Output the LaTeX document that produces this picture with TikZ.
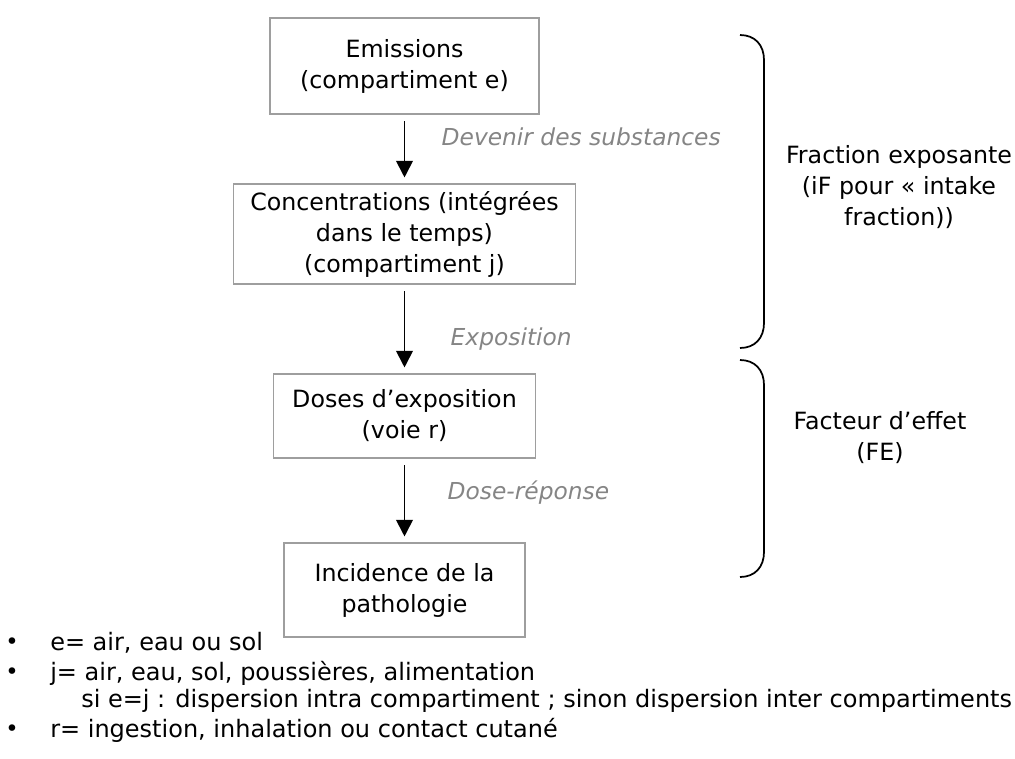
\documentclass[tikz,border=0pt]{standalone}
\usepackage{fontspec}
\setmainfont{DejaVu Sans}
\usetikzlibrary{arrows.meta}
\definecolor{boxline}{gray}{0.62}
\definecolor{notegray}{gray}{0.52}
\begin{document}
\begin{tikzpicture}[
       x=0.75pt, y=-0.75pt,
       box/.style={rectangle, draw=boxline, line width=0.8pt, align=center, inner sep=2pt,
                   font=\fontsize{17.8pt}{23.25pt}\selectfont},
       arrow/.style={-{Triangle[width=12.5pt,length=12.5pt]}, line width=1.4pt, black, shorten <=5pt, shorten >=4.5pt},
       note/.style={anchor=west, text=notegray, font=\fontsize{17.5pt}{23pt}\selectfont\itshape},
       side/.style={align=center, font=\fontsize{17.8pt}{23.25pt}\selectfont},
       bracket/.style={line width=1.3pt, black},
       item/.style={anchor=west, inner sep=0pt, font=\fontsize{18pt}{22pt}\selectfont},
       dot/.style={inner sep=0pt, font=\fontsize{17pt}{17pt}\selectfont}
   ]
   \useasboundingbox (0,0) rectangle (1015,758);
   \node[box, minimum width=201.75pt, minimum height=72pt] (emis) at (404.5,66) {Emissions\\(compartiment e)};
   \node[box, minimum width=256.5pt, minimum height=75pt] (conc) at (404.5,234) {Concentrations (intégrées\\dans le temps)\\(compartiment j)};
   \node[box, minimum width=196.5pt, minimum height=63pt] (dose) at (404.5,416) {Doses d’exposition\\(voie r)};
   \node[box, minimum width=180.75pt, minimum height=70.5pt] (inc) at (404.5,590) {Incidence de la\\pathologie};

   \draw[arrow] (emis) -- (conc);
   \draw[arrow] (conc) -- (dose);
   \draw[arrow] (dose) -- (inc);

   \node[note] (devenir) at (437,137) {Devenir des substances};
   \node[note] (expo) at (446,339) {Exposition};
   \node[note] (doserep) at (443,493) {Dose-réponse};

   % accolades
   \coordinate (fe top) at (740,35);
   \coordinate (fe bot) at (740,348);
   \coordinate (fx top) at (740,360);
   \coordinate (fx bot) at (740,577);
   \draw[bracket] (fe top) .. controls (755,35) and (764,45) .. (764,60) -- (764,323) .. controls (764,338) and (755,348) .. (fe bot);
   \draw[bracket] (fx top) .. controls (755,360) and (764,370) .. (764,385) -- (764,552) .. controls (764,567) and (755,577) .. (fx bot);
   \node[side] (iF) at (899,187) {Fraction exposante\\(iF pour « intake\\fraction))};
   \node[side] (FE) at (880,438) {Facteur d’effet\\(FE)};

   % legende
   \node[dot] (b1) at (12,644) {•};
   \node[dot] (b2) at (12,674) {•};
   \node[dot] (b3) at (12,731) {•};
   \node[item] (e) at (50,643) {e= air, eau ou sol};
   \node[item] (j) at (50,673) {j= air, eau, sol, poussières, alimentation};
   \node[item] (si) at (81,701) {si e=j : dispersion intra compartiment ; sinon dispersion inter compartiments};
   \node[item] (r) at (50,730) {r= ingestion, inhalation ou contact cutané};
\end{tikzpicture}
\end{document}
